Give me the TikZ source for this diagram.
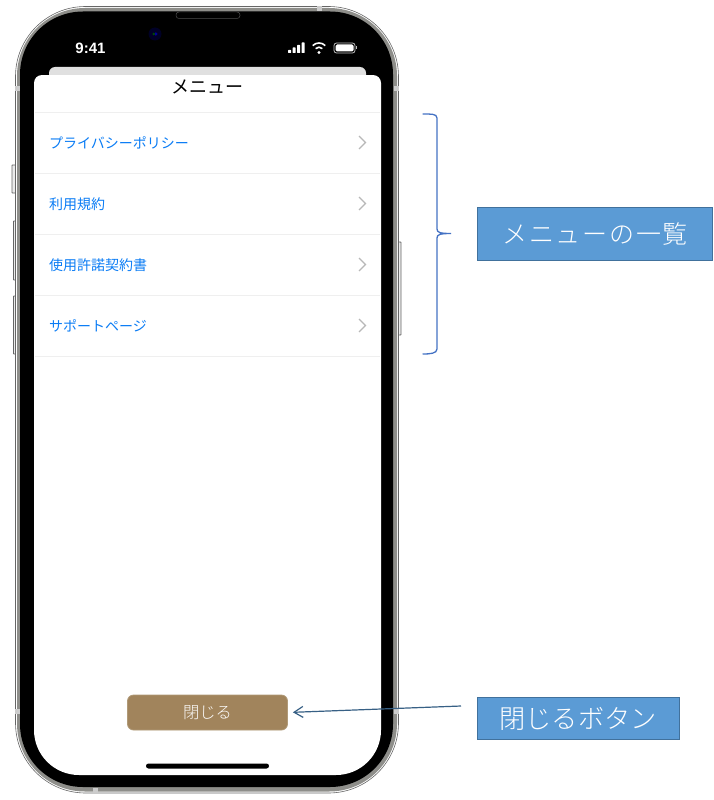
\documentclass[tikz,border=0pt]{standalone}
\usepackage{fontspec}
\setmainfont{Noto Sans CJK JP}
\newfontfamily\latinfont{Liberation Sans}
\newfontfamily\thinfont{Noto Sans CJK JP Light}
\usetikzlibrary{arrows.meta}
\definecolor{linkblue}{HTML}{0A7CF5}
\definecolor{callout}{HTML}{5B9BD5}
\definecolor{calloutedge}{HTML}{41719C}
\definecolor{bracecol}{HTML}{4472C4}
\definecolor{btnfill}{HTML}{A1845C}
\definecolor{btnedge}{HTML}{B09A78}
\definecolor{rowline}{HTML}{EFEFEF}
\definecolor{chevcol}{HTML}{B8B8B8}
\definecolor{bezel}{HTML}{8E8E8A}
\tikzset{
  x=1pt,y=-1pt,
  rowtext/.style={anchor=west,text=linkblue,font=\fontsize{14}{14}\selectfont,inner sep=0pt},
  callbox/.style={draw=calloutedge,line width=1pt,fill=callout,text=white,inner sep=0pt,align=center},
  sepline/.style={draw=rowline,line width=1pt},
  chev/.style={draw=chevcol,line width=1.3pt,line join=miter},
  sidebtn/.style={draw=black!60,fill=black!8,line width=.8pt,rounded corners=.5},
  band/.style={fill=black!20,draw=none},
}
\begin{document}
\begin{tikzpicture}
\useasboundingbox (0,0) rectangle (713,800);
\fill[white] (0,0) rectangle (713,800);
% side buttons
\draw[sidebtn] (12,165) rectangle (16,193);
\draw[sidebtn] (13.5,221) rectangle (16,280);
\draw[sidebtn] (13.5,296) rectangle (16,354);
\draw[sidebtn] (398,242) rectangle (401,335);
% body
\draw[draw=black!60,line width=.6pt,fill=white,rounded corners=70] (15.5,6.5) rectangle (398.5,793);
\fill[bezel,rounded corners=68] (17,8) rectangle (397,791.5);
\fill[black,rounded corners=63] (20,11.5) rectangle (393,787);
% antenna bands
\fill[band] (15,86) rectangle (20,91);
\fill[band] (394,86) rectangle (399,91);
\fill[band] (15,709) rectangle (20,714);
\fill[band] (394,709) rectangle (399,714);
\fill[band] (93,787.5) rectangle (98,793);
\fill[band] (317,6) rectangle (322,11.5);
% speaker and camera
\draw[draw=black!70!white,line width=.5pt,fill=black,rounded corners=3] (176,12) rectangle (240,18.5);
\fill[black!85!blue] (155,34) circle (6.5);
\fill[blue!60!black] (155.8,34) circle (1.8);
\fill[green!30!black] (153.7,34) circle (1.3);
% status bar
\node[text=white,inner sep=0pt,font=\latinfont\bfseries\fontsize{15}{15}\selectfont] (clock) at (90.5,48) {9:41};
\fill[white,rounded corners=.5] (288,50) rectangle (291,53);
\fill[white,rounded corners=.5] (292.5,47.5) rectangle (295.5,53);
\fill[white,rounded corners=.5] (297,45) rectangle (300,53);
\fill[white,rounded corners=.5] (301.5,42.5) rectangle (304.5,53);
\fill[white] (319,52.5) circle (1.6);
\draw[white,line width=1.6pt] (315.6,48.6) arc[start angle=-135,end angle=-45,radius=4.8];
\draw[white,line width=1.6pt] (312.7,45.6) arc[start angle=-135,end angle=-45,radius=8.9];
\draw[white!75!black,line width=.8pt,rounded corners=2.5] (334,43) rectangle (355,53);
\fill[white,rounded corners=1.5] (335.5,44.5) rectangle (353.5,51.5);
\fill[white!75!black] (356,46.5) rectangle (357,49.5);
% back sheet
\fill[black!12,rounded corners=6] (49,67) rectangle (366,90);
% screen
\fill[white,rounded corners=8] (34,200) -- (34,75) -- (381,75) -- (381,200)
  [rounded corners=45] -- (381,775) -- (34,775) -- cycle;
% menu
\node[inner sep=0pt,font=\fontsize{18}{18}\selectfont] (title) at (207.5,87) {メニュー};
\foreach \y in {112,173,234,295,356}{\draw[sepline] (35,\y) -- (380,\y);}
\node[rowtext] (r1) at (49,142.5) {プライバシーポリシー};
\node[rowtext] (r2) at (49,204) {利用規約};
\node[rowtext] (r3) at (49,265) {使用許諾契約書};
\node[rowtext] (r4) at (49,325.5) {サポートページ};
\foreach \y in {142.5,203.5,264.5,325.5}{\draw[chev] (359,\y-6.5) -- (365.5,\y) -- (359,\y+6.5);}
% close button
\node[draw=btnedge,line width=.8pt,fill=btnfill,rounded corners=6,minimum width=160pt,minimum height=35pt,inner sep=0pt,text=white,font=\thinfont\fontsize{16.3}{16}\selectfont] (btn) at (207.5,712.5) {閉じる};
\fill[black,rounded corners=2.5] (146,763.5) rectangle (269,768.5);
% callouts
\node[callbox,minimum width=235pt,minimum height=53pt,font=\thinfont\fontsize{25}{25}\selectfont] (listlabel) at (595,233.5) {\addfontfeature{LetterSpace=7}メニューの一覧};
\node[callbox,minimum width=202pt,minimum height=42pt,font=\thinfont\fontsize{26.2}{26}\selectfont] (closelabel) at (578,718.5) {閉じるボタン};
% brace
\coordinate (bracetip) at (451,233.5);
\draw[bracecol,line width=1.3pt] (422.5,114) .. controls (430,114) and (437,113.5) .. (437,118) -- (437,229)
  .. controls (437,232.5) and (440,233.5) .. (bracetip)
  .. controls (440,233.5) and (437,234.5) .. (437,238) -- (437,349)
  .. controls (437,353.5) and (430,354) .. (422.5,354);
% arrow
\coordinate (arrowstart) at (461,706);
\draw[-{Straight Barb[length=9pt,width=11pt]},draw=calloutedge!85!black,line width=1.2pt,shorten >=5pt] (arrowstart) -- (btn.east);
\end{tikzpicture}
\end{document}
